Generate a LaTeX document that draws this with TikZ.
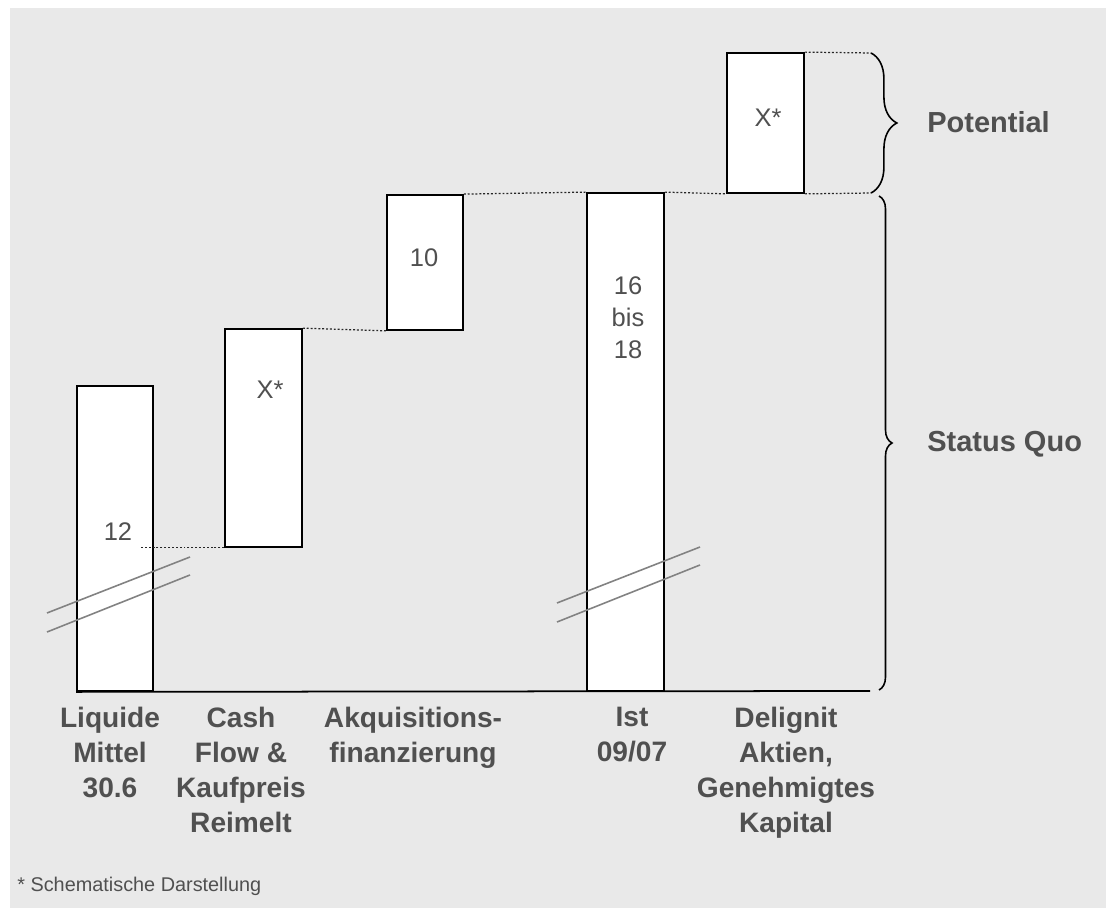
\documentclass[tikz,border=0pt]{standalone}
\usepackage{fontspec}
\setmainfont{Liberation Sans}
\usetikzlibrary{fit, positioning, decorations.pathreplacing}
\definecolor{panelgray}{RGB}{233,233,233}
\definecolor{textgray}{RGB}{80,80,80}
\definecolor{breakgray}{RGB}{130,130,130}

\begin{document}
\begin{tikzpicture}[x=0.02cm, y=-0.02cm,
  bar/.style={draw, fill=white, line width=1pt, inner sep=0pt},
  val/.style={text=textgray, font=\fontsize{14.5}{18.2}\selectfont, align=center, inner sep=0pt},
  cat/.style={text=textgray, font=\fontsize{16}{19.8}\selectfont\bfseries, align=center, anchor=north, inner sep=0pt},
  side/.style={text=textgray, font=\fontsize{16.5}{19}\selectfont\bfseries, anchor=west, inner sep=0pt},
  guide/.style={dash pattern=on 1.1pt off 1.1pt, line width=0.7pt, black!85},
  cut/.style={breakgray, line width=0.9pt},
  curly/.style={decorate, line width=0.9pt}]
  \useasboundingbox (0,0) rectangle (1106,908);
  \fill[panelgray] (10,8) rectangle (1106,908);

  % bars
  \node[bar, fit={(77,386) (153,691)}] (liquid) {};
  \node[bar, fit={(225,329) (302,547)}] (cashflow) {};
  \node[bar, fit={(387,195) (463,330)}] (akq) {};
  \node[bar, fit={(587,193) (664,691)}] (ist) {};
  \node[bar, fit={(727,53) (804,193)}] (delig) {};

  % base line
  \coordinate (axisend) at (870,691);
  \draw[line width=1pt] (liquid.south west) -- (axisend);

  % values
  \node[val] (v12) at (118,532) {12};
  \node[val] (vcash) at (270,390) {X*};
  \node[val] (vakq) at (424,258) {10};
  \node[val] (vist) at (628,318) {16\\bis\\18};
  \node[val] (vdelig) at (768,118) {X*};

  % dotted guides
  \draw[guide] (cashflow.south west) -- ++(-83,0);
  \draw[guide] (cashflow.north east) -- (akq.south west);
  \draw[guide] (akq.north east) -- (ist.north west);
  \draw[guide] (ist.north east) -- (delig.south west);
  \coordinate (ptop) at (871,53);
  \coordinate (pbot) at (871,193);
  \draw[guide] (delig.north east) -- (ptop);
  \draw[guide] (delig.south east) -- (pbot);

  % axis breaks
  \draw[cut] (47,613) -- (190,557);
  \draw[cut] (47,632) -- (190,575);
  \draw[cut] (557,603) -- (700,547);
  \draw[cut] (557,622) -- (700,565);

  % braces
  \coordinate (stop) at (879,196);
  \coordinate (sbot) at (879,690);
  \draw[curly, decoration={brace, amplitude=14.7pt}] (ptop) -- (pbot);
  \draw[curly, decoration={brace, amplitude=7.4pt}] (stop) -- (sbot);
  \node[side] (potential) at (927,122) {Potential};
  \node[side] (statusquo) at (927,444) {Status Quo};

  % categories
  \node[cat] (lliquid) at (110,707) {Liquide\\Mittel\\30.6};
  \node[cat] (lcash) at (241,707) {Cash\\Flow \&\\Kaufpreis\\Reimelt};
  \node[cat] (lakq) at (413,707) {Akquisitions-\\finanzierung};
  \node[cat] (list) at (632,707) {Ist\\09/07};
  \node[cat] (ldelig) at (786,707) {Delignit\\Aktien,\\Genehmigtes\\Kapital};

  \node[text=textgray, font=\fontsize{11.3}{13}\selectfont, anchor=west, inner sep=0pt] (note) at (17,886) {* Schematische Darstellung};
\end{tikzpicture}
\end{document}
